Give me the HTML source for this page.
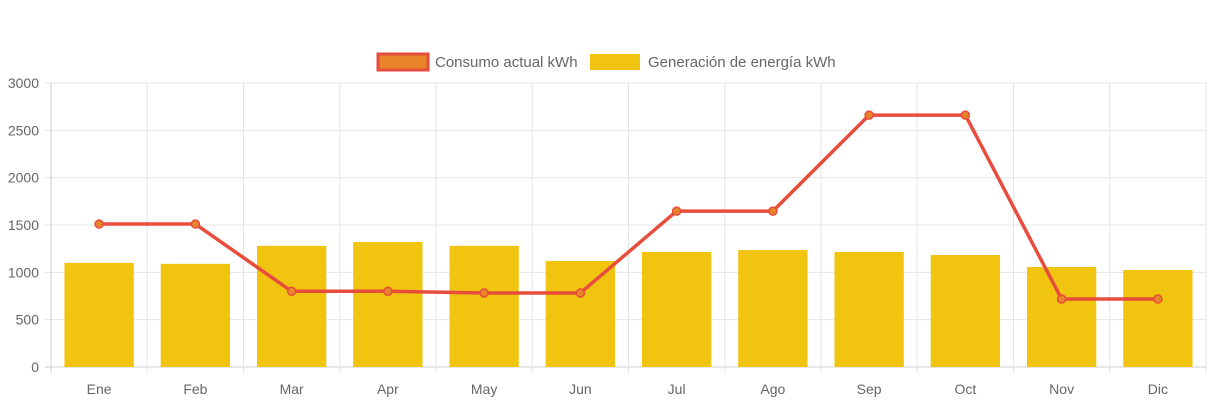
<!DOCTYPE html>
<html><head><meta charset="utf-8">
<style>
body{margin:0;background:#fff;width:1213px;height:403px;overflow:hidden;font-family:"Liberation Sans",Arial,sans-serif}
svg text{font-family:"Liberation Sans",Arial,sans-serif;fill:#666;font-size:14px}
#legend text{font-size:15px}
</style></head><body>
<svg id="chart" width="1213" height="403" xmlns="http://www.w3.org/2000/svg">
<g id="legend">
<g>
<rect x="378" y="54" width="50" height="16" fill="#e8852a" stroke="#e74c3c" stroke-width="3"/>
<text x="435" y="67">Consumo actual kWh</text></g>
<g>
<rect x="590" y="54" width="50" height="16" fill="#f1c40f"/>
<text x="648" y="67">Generación de energía kWh</text></g>
</g>
<g id="grid"></g><g id="bars"></g><g id="line"></g><g id="axes"></g>
</svg>
<script>
const categories=["Ene","Feb","Mar","Apr","May","Jun","Jul","Ago","Sep","Oct","Nov","Dic"];
const generacion=[1100,1090,1280,1320,1280,1120,1215,1235,1215,1183,1056,1025];
const consumo=[1510,1510,800,800,782,782,1647,1647,2661,2661,718,718];
const yTicks=[0,500,1000,1500,2000,2500,3000];
const NS="http://www.w3.org/2000/svg";
const L=51,R=1206,T=83,B=367,YMAX=3000;
const cw=(R-L)/categories.length;
const x=i=>L+cw*(i+0.5);
const y=v=>B-(v/YMAX)*(B-T);
function mk(tag,attrs,parent){const e=document.createElementNS(NS,tag);for(const k in attrs)e.setAttribute(k,attrs[k]);document.getElementById(parent).appendChild(e);return e;}
yTicks.forEach(t=>{
 const g=mk("line",{x1:L-6,x2:R,y1:y(t),y2:y(t),stroke:t===0?"#ccc":"#e5e5e5","stroke-width":1},"grid");
 
 
 const tx=mk("text",{x:L-12,y:y(t)+5,"text-anchor":"end"},"axes");tx.textContent=t;
 
 
});
for(let i=0;i<=categories.length;i++){
 const gx=L+cw*i;
 const g=mk("line",{x1:gx,x2:gx,y1:T,y2:B+6,stroke:i===0?"#ccc":"#e5e5e5","stroke-width":1},"grid");
 
 
}
categories.forEach((c,i)=>{
 const tx=mk("text",{x:x(i),y:B+27,"text-anchor":"middle"},"axes");tx.textContent=c;
 
 
 const bw=cw*0.72;
 const b=mk("rect",{x:x(i)-bw/2,y:y(generacion[i]),width:bw,height:B-y(generacion[i]),fill:"#f1c40f"},"bars");
 
 
});
const pl=mk("polyline",{points:consumo.map((v,i)=>x(i)+","+y(v)).join(" "),fill:"none",stroke:"#e74c3c","stroke-width":3.5,"stroke-linejoin":"round"},"line");


consumo.forEach((v,i)=>{
 const p=mk("circle",{cx:x(i),cy:y(v),r:4,fill:"#e8852a",stroke:"#e74c3c","stroke-width":1.5},"line");
 
 
});
</script>
</body></html>
